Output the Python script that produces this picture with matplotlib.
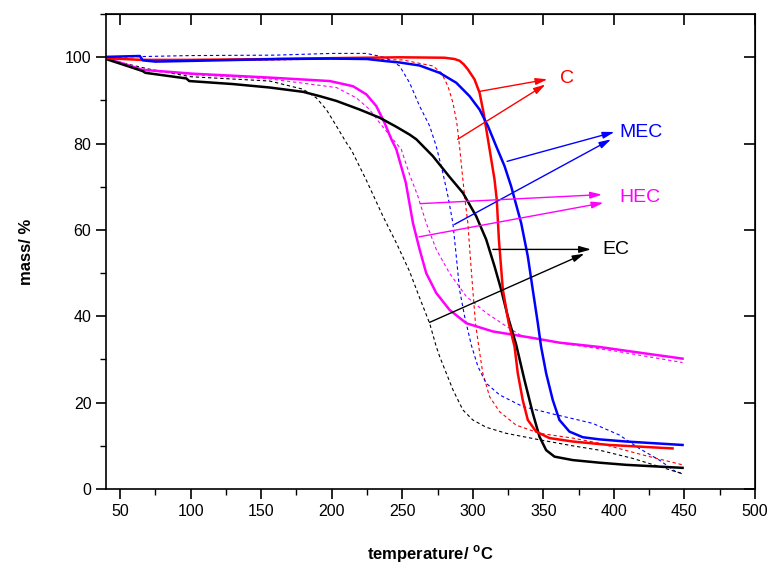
import matplotlib
matplotlib.use("Agg")
import matplotlib.pyplot as plt
from matplotlib.ticker import MultipleLocator

plt.rcParams['font.family'] = ['Liberation Sans', 'DejaVu Sans']
plt.rcParams['mathtext.fontset'] = 'custom'
plt.rcParams['mathtext.rm'] = 'Liberation Sans'
plt.rcParams['mathtext.bf'] = 'Liberation Sans:bold'

# ---- data (temperature in C, mass in %) ----
c_solid_x = [40, 65, 100, 160, 200, 248, 280, 287, 290.6, 293.5, 296.5, 301.2, 304.8, 307.6, 310, 313.1, 315.4, 317,
             318.5, 321.3, 325.5, 329.6, 331.9, 335.4, 339, 344.9, 354.3, 370.8, 396.8, 441.6]
c_solid_y = [99.8, 99.4, 99.4, 99.6, 99.8, 100.0, 99.9, 99.6, 99.2, 98.4, 97.2, 94.9, 91.8, 87.2, 82.5, 76.3, 71.7, 67.0,
             57.8, 46.2, 38.4, 33.0, 26.8, 20.6, 16.0, 13.3, 11.8, 11.0, 10.2, 9.4]

mec_solid_x = [40, 64, 66, 75, 120, 163, 200, 225, 238.7, 248.1, 262.3, 276.5, 288.3, 297.7, 304.8, 310.7,
               316.6, 322.5, 327.2, 334.3, 339, 342.5, 346.1, 348.4, 352, 356.7, 361.4, 368.5, 377.9,
               389.7, 408.6, 448.7]
mec_solid_y = [100.1, 100.3, 99.3, 99.0, 99.3, 99.6, 99.7, 99.6, 99.1, 98.8, 98.1, 96.4, 94.1, 91.0, 87.9, 84.1,
               79.4, 74.8, 70.1, 61.6, 53.9, 46.2, 38.4, 33.0, 26.8, 20.6, 16.0, 13.3, 12.0,
               11.5, 11.0, 10.2]

hec_solid_x = [40, 66, 101.6, 156.1, 198.6, 215.1, 224.6, 231.6, 237.5, 242.3, 245.8, 252.5, 257.6, 262.3,
               267, 274.1, 283.5, 295.4, 314.2, 342.5, 361.4, 389.7, 420, 448.7]
hec_solid_y = [99.8, 97.1, 96.2, 95.3, 94.5, 93.3, 91.4, 88.7, 84.8, 81.0, 78.7, 71.0, 61.6, 55.5,
               50.0, 45.4, 41.5, 38.4, 36.5, 35.0, 33.9, 32.9, 31.5, 30.2]

ec_solid_x = [40, 55, 66, 68, 97, 99, 130, 156.1, 179.7, 191.5, 203.3, 219.8, 234, 245.8, 255.2, 260,
              271.7, 283.5, 293, 302.4, 309.5, 315.4, 320.1, 324.8, 330.7, 336.6, 342.5, 347.3, 352,
              357.9, 370.8, 389.7, 408.6, 448.7]
ec_solid_y = [99.6, 98.0, 96.8, 96.4, 95.1, 94.5, 93.8, 93.0, 92.0, 91.0, 89.9, 87.9, 86.0, 83.9, 82.1, 81.0,
              77.1, 72.3, 68.6, 63.2, 57.8, 51.6, 46.2, 40.0, 33.5, 25.3, 17.6, 12.1, 9.0,
              7.5, 6.7, 6.1, 5.6, 4.9]

c_dash_x = [40, 100, 160, 200, 250, 262.3, 271.7, 277.7, 282.4, 285.9, 288.7, 290.6, 292.5, 294.2, 296.5,
            298.2, 300, 301.9, 304.1, 307.1, 311.9, 319, 330.7, 347.3, 370.8, 389.7, 420.4, 448.7]
c_dash_y = [99.6, 99.3, 99.4, 99.6, 99.4, 98.6, 98.0, 96.4, 93.3, 89.5, 84.8, 79.4, 73.2, 67.8, 61.6,
            53.9, 46.2, 38.4, 33.3, 26.8, 21.4, 17.9, 14.8, 12.9, 11.8, 10.6, 7.9, 5.6]

mec_dash_x = [40, 100, 160, 200, 224.6, 238.7, 248.1, 255.2, 262.3, 269.4, 274.1, 278.8, 282.4, 285.9,
              288.3, 290.6, 294.2, 298.9, 303.6, 309.5, 319, 335.4, 359.1, 385, 403.9, 418, 432.2, 444, 448.7]
mec_dash_y = [100.0, 100.4, 100.5, 100.9, 100.9, 99.9, 98.0, 94.1, 88.7, 84.1, 79.4, 73.2, 67.8, 61.6,
              53.9, 46.2, 40.0, 33.4, 28.4, 24.5, 21.8, 19.1, 17.2, 15.2, 12.5, 9.4, 6.7, 4.0, 3.5]

hec_dash_x = [40, 66, 100, 156, 203.3, 217.5, 226.9, 234, 243.4, 249.3, 255, 261.1, 267, 274.1, 283.5,
              295.4, 309.5, 323.7, 335.4, 366.1, 400, 448.7]
hec_dash_y = [99.8, 97.0, 96.0, 95.0, 93.0, 90.6, 87.9, 84.8, 81.0, 78.7, 73.0, 67.8, 61.6, 55.5, 50.0,
              44.6, 40.8, 37.7, 35.3, 33.6, 32.0, 29.3]

ec_dash_x = [40, 70, 100, 156.1, 179.7, 189.1, 196.2, 203.3, 210.4, 214, 224.6, 236.3, 245.8, 255.2, 262.3,
             269.4, 274.1, 276.5, 285.9, 293, 300, 309.5, 323.7, 347.3, 370.8, 389.7, 413.3, 432.2, 444, 448.7]
ec_dash_y = [99.6, 97.3, 95.5, 94.5, 92.6, 90.6, 87.9, 84.1, 80.2, 78.5, 71.5, 63.2, 57.0, 50.4, 44.3,
             38.4, 33.0, 30.7, 23.0, 18.3, 16.0, 14.3, 12.9, 11.4, 10.0, 9.0, 7.1, 5.2, 4.0, 3.6]

labels = ["C", "MEC", "HEC", "EC"]
label_pos = [(362.0, 95.2), (404.0, 82.5), (404.0, 67.5), (392.0, 55.5)]
arrows = [
    [((304.8, 92.1), (352.9, 94.9)), ((289.2, 81.0), (351.5, 93.7))],
    [((324.3, 75.9), (400.4, 82.7)), ((287.1, 61.3), (398.0, 81.0))],
    [((262.7, 66.1), (391.6, 68.2)), ((261.8, 58.4), (392.6, 66.3))],
    [((314.2, 55.5), (383.8, 55.5)), ((269.4, 38.6), (379.1, 54.5))],
]
colors = ["#ff0000", "#0000ff", "#ff00ff", "#000000"]

fig = plt.figure(figsize=(7.68, 5.65), dpi=100)
ax = fig.add_axes([0.138, 0.1345, 0.845, 0.8405])

dash = (0, (3, 2.5))
for xs, ys, col in [(c_dash_x, c_dash_y, colors[0]), (mec_dash_x, mec_dash_y, colors[1]),
                    (hec_dash_x, hec_dash_y, colors[2]), (ec_dash_x, ec_dash_y, colors[3])]:
    ax.plot(xs, ys, color=col, lw=0.8, linestyle=dash)

for xs, ys, col in [(hec_solid_x, hec_solid_y, colors[2]), (ec_solid_x, ec_solid_y, colors[3]),
                    (c_solid_x, c_solid_y, colors[0]), (mec_solid_x, mec_solid_y, colors[1])]:
    ax.plot(xs, ys, color=col, lw=1.8, solid_joinstyle='round')

for lab, pos, arrs, col in zip(labels, label_pos, arrows, colors):
    ax.text(pos[0], pos[1], lab, color=col, fontsize=14, va='center', ha='left')
    for (x0, y0), (x1, y1) in arrs:
        ax.annotate("", xy=(x1, y1), xytext=(x0, y0),
                    arrowprops=dict(arrowstyle="-|>,head_length=0.7,head_width=0.2",
                                    color=col, lw=1.0, shrinkA=0, shrinkB=0))

ax.set_xlim(40, 500)
ax.set_ylim(0, 110)
ax.xaxis.set_major_locator(MultipleLocator(50))
ax.xaxis.set_minor_locator(MultipleLocator(25))
ax.yaxis.set_major_locator(MultipleLocator(20))
ax.yaxis.set_minor_locator(MultipleLocator(10))
ax.tick_params(axis='both', which='major', direction='out', length=7, width=1.2, labelsize=11.5)
ax.tick_params(axis='both', which='minor', direction='out', length=4, width=1.0)
for s in ax.spines.values():
    s.set_linewidth(1.2)

# inward ticks on top and right
axt = ax.secondary_xaxis('top')
axt.xaxis.set_major_locator(MultipleLocator(50))
axt.tick_params(direction='in', length=8, width=1.2, labeltop=False)
axt.set_xticklabels([])
axr = ax.secondary_yaxis('right')
axr.yaxis.set_major_locator(MultipleLocator(20))
axr.tick_params(direction='in', length=8, width=1.2)
axr.set_yticklabels([])

ax.set_xlabel(r"temperature/ $^{\mathbf{o}}$C", fontsize=12, fontweight='bold', labelpad=18)
ax.set_ylabel("mass/ %", fontsize=12, fontweight='bold', labelpad=22)

fig.savefig("out.png", dpi=100)
